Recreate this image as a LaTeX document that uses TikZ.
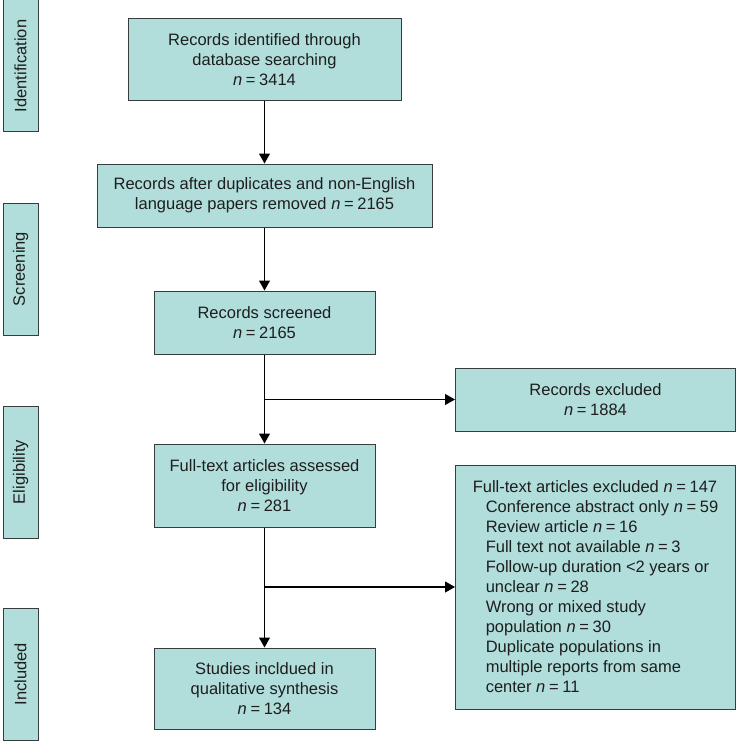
\documentclass[tikz,border=0pt]{standalone}
\usepackage{fontspec}
\setmainfont{Liberation Sans}
\usetikzlibrary{arrows.meta}
\definecolor{boxfill}{RGB}{177,222,219}
\definecolor{boxline}{RGB}{55,60,60}
\definecolor{txt}{RGB}{30,30,30}
\tikzset{
  every node/.style={font=\fontsize{16.5pt}{20pt}\selectfont, text=txt},
  flowbox/.style={draw=boxline, line width=1pt, fill=boxfill, inner sep=0pt, align=center},
  sidebox/.style={draw=boxline, line width=1pt, fill=boxfill, inner sep=0pt, rotate=90,
                  minimum width=132pt, minimum height=35pt},
  conn/.style={line width=1.1pt, black, -{Triangle[length=10pt,width=11pt]}}
}
\newcommand{\nn}{\textit{n}\hspace{0.22em}=\hspace{0.22em}}
\begin{document}
\begin{tikzpicture}[x=1pt,y=1pt]
\useasboundingbox (0,0) rectangle (736,-741);
% side labels
\node[sidebox] (sid) at (20.5,-66) {Identification};
\node[sidebox] (ssc) at (20.5,-269) {Screening};
\node[sidebox] (sel) at (20.5,-472) {Eligibility};
\node[sidebox] (sin) at (20.5,-674) {Included};
% main column
\node[flowbox, minimum width=273pt, minimum height=82pt] (b1) at (264.5,-60)
  {Records identified through\\database searching\\\nn 3414};
\node[flowbox, minimum width=335pt, minimum height=63pt] (b2) at (264.5,-195.5)
  {Records after duplicates and non-English\\language papers removed \nn 2165};
\node[flowbox, minimum width=221pt, minimum height=63pt] (b3) at (264.5,-322.5)
  {Records screened\\\nn 2165};
\node[flowbox, minimum width=221pt, minimum height=83pt] (b4) at (264.5,-485.5)
  {Full-text articles assessed\\for eligibility\\\nn 281};
\node[flowbox, minimum width=221pt, minimum height=81pt] (b5) at (264.5,-688.5)
  {Studies incldued in\\qualitative synthesis\\\nn 134};
% exclusion boxes
\node[flowbox, minimum width=280pt, minimum height=63pt] (e1) at (595.5,-399.5)
  {Records excluded\\\nn 1884};
\node[flowbox, minimum width=280pt, minimum height=244pt, align=left] (e2) at (595.5,-587)
  {Full-text articles excluded \nn 147\\
   \hspace*{13pt}Conference abstract only \nn 59\\
   \hspace*{13pt}Review article \nn 16\\
   \hspace*{13pt}Full text not available \nn 3\\
   \hspace*{13pt}Follow-up duration <2 years or\\
   \hspace*{13pt}unclear \nn 28\\
   \hspace*{13pt}Wrong or mixed study\\
   \hspace*{13pt}population \nn 30\\
   \hspace*{13pt}Duplicate populations in\\
   \hspace*{13pt}multiple reports from same\\
   \hspace*{13pt}center \nn 11};
% connectors
\draw[conn] (b1) -- (b2);
\draw[conn] (b2) -- (b3);
\draw[conn] (b3) -- (b4);
\draw[conn] (b4) -- (b5);
\coordinate (j1) at (b3.south |- e1.west);
\coordinate (j2) at (b4.south |- e2.west);
\draw[conn] (j1) -- (e1.west);
\draw[conn] (j2) -- (e2.west);
\end{tikzpicture}
\end{document}
